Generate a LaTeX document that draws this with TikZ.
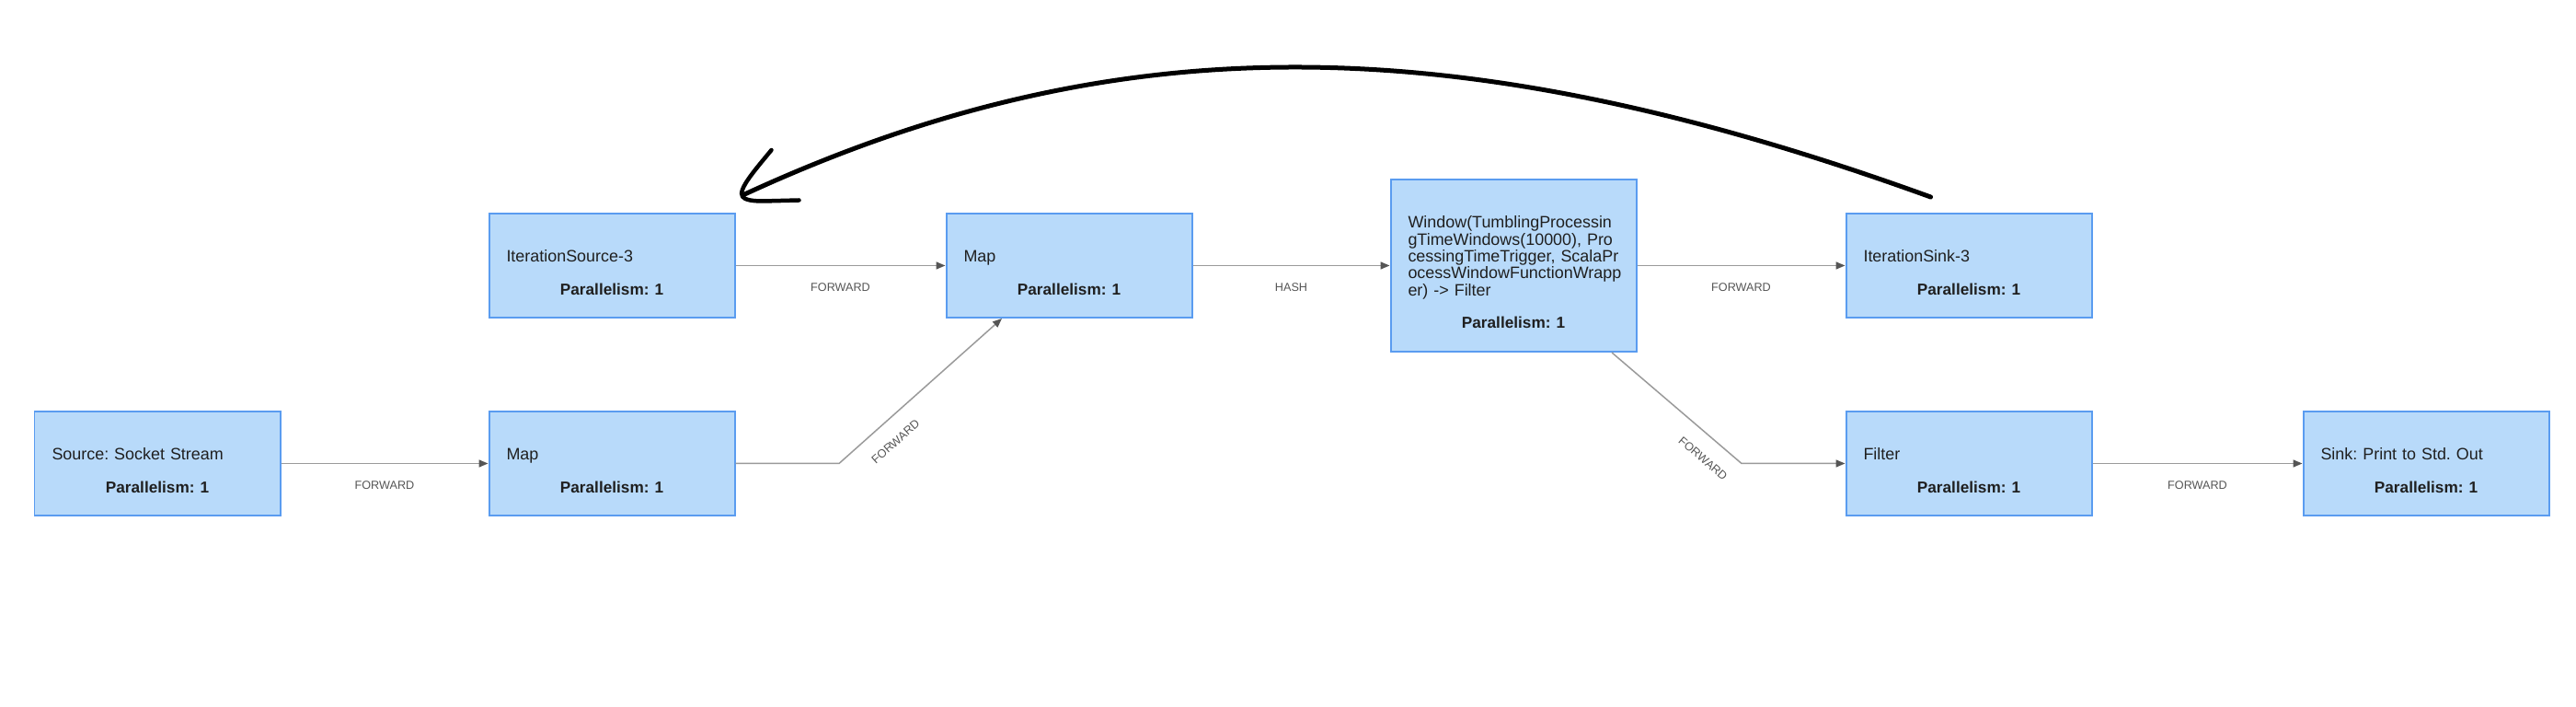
\documentclass[tikz,border=0pt]{standalone}
\usepackage{fontspec}
\setmainfont{Liberation Sans}
\usetikzlibrary{arrows.meta, positioning, calc}
\definecolor{boxfill}{HTML}{B8DAFA}
\definecolor{boxline}{HTML}{5A9CF0}
\definecolor{edgeline}{HTML}{9A9A9A}
\definecolor{edgetext}{HTML}{555555}
\frenchspacing
\newcommand{\opparallel}[1]{\par\vspace{9.6pt}{\centering\fontsize{9.8}{10.6}\selectfont\textbf{Parallelism: #1}\par}}

\begin{document}
\begin{tikzpicture}[
            operator/.style={rectangle, draw=boxline, line width=0.04cm, fill=boxfill, minimum width=5.34cm, minimum height=2.26cm, inner xsep=0.38cm, text width=4.58cm, align=left, font=\fontsize{10.2}{10.4}\selectfont, text=black!88, execute at begin node={\lineskiplimit=-6pt\rule{0pt}{15.8pt}}},
            elabel/.style={font=\fontsize{7.2}{8}\selectfont, text=edgetext, inner sep=0pt},
            arrow/.style={-{Triangle[length=0.2cm, width=0.16cm, color=edgetext]}, draw=edgeline, line width=0.03cm},
            loop/.style={line width=0.1cm, line cap=round, line join=round}
        ]
            \useasboundingbox (0,0) rectangle (56,15.36);

% Operators, upper row
            \node[operator] (itsrc) at (13.30,9.59) {IterationSource-3\opparallel{1}};
            \node[operator] (map1) at (23.24,9.59) {Map\opparallel{1}};
            \node[operator, minimum height=3.74cm] (window) at (32.90,9.59) {\mbox{Window(TumblingProcessin}\\\mbox{gTimeWindows(10000), Pro}\\\mbox{cessingTimeTrigger, ScalaPr}\\\mbox{ocessWindowFunctionWrapp}\\er) -> Filter\opparallel{1}};
            \node[operator] (itsink) at (42.80,9.59) {IterationSink-3\opparallel{1}};

% Operators, lower row
            \node[operator] (src) at (3.42,5.29) {Source: Socket Stream\opparallel{1}};
            \node[operator] (map2) at (13.30,5.29) {Map\opparallel{1}};
            \node[operator] (filter) at (42.80,5.29) {Filter\opparallel{1}};
            \node[operator] (sink) at (52.74,5.29) {Sink: Print to Std. Out\opparallel{1}};

% Bend points
            \coordinate (bendA) at (18.24,5.29);
            \coordinate (bendB) at (37.86,5.29);
            \coordinate (map1in) at ($(map1.south)+(-1.46,0)$);
            \coordinate (winout) at ($(window.south)+(2.14,0)$);

% Data flow
            \draw[arrow] (src) -- node[elabel, below=0.36cm] {FORWARD} (map2);
            \draw[arrow] (map2.east) -- (bendA) -- node[elabel, sloped, pos=0.26, below=0.36cm] {FORWARD} (map1in);
            \draw[arrow] (itsrc) -- node[elabel, below=0.36cm] {FORWARD} (map1);
            \draw[arrow] (map1) -- node[elabel, below=0.36cm] {HASH} (window);
            \draw[arrow] (window.east |- itsink) -- node[elabel, below=0.36cm] {FORWARD} (itsink);
            \draw[arrow] (winout) -- node[elabel, sloped, pos=0.81, below=0.36cm] {FORWARD} (bendB) -- (filter.west);
            \draw[arrow] (filter) -- node[elabel, below=0.36cm] {FORWARD} (sink);

% Feedback loop (hand drawn)
            \coordinate (loopstart) at ($(itsink.north west)+(1.86,0.34)$);
            \coordinate (loopend) at ($(itsrc.north east)+(0.2,0.4)$);
            \draw[loop] (loopstart) .. controls (31.7,14.8) and (24.26,14.86) .. (loopend);
            \draw[loop, line width=0.09cm] ($(loopend)+(0.58,0.96)$) .. controls ($(loopend)+(0.2,0.5)$) and ($(loopend)+(-0.15,0.1)$) .. ($(loopend)+(-0.05,-0.05)$) .. controls ($(loopend)+(0,-0.13)$) and ($(loopend)+(0.2,-0.15)$) .. ($(loopend)+(0.4,-0.15)$) -- ($(loopend)+(1.18,-0.13)$);

        \end{tikzpicture}
\end{document}
